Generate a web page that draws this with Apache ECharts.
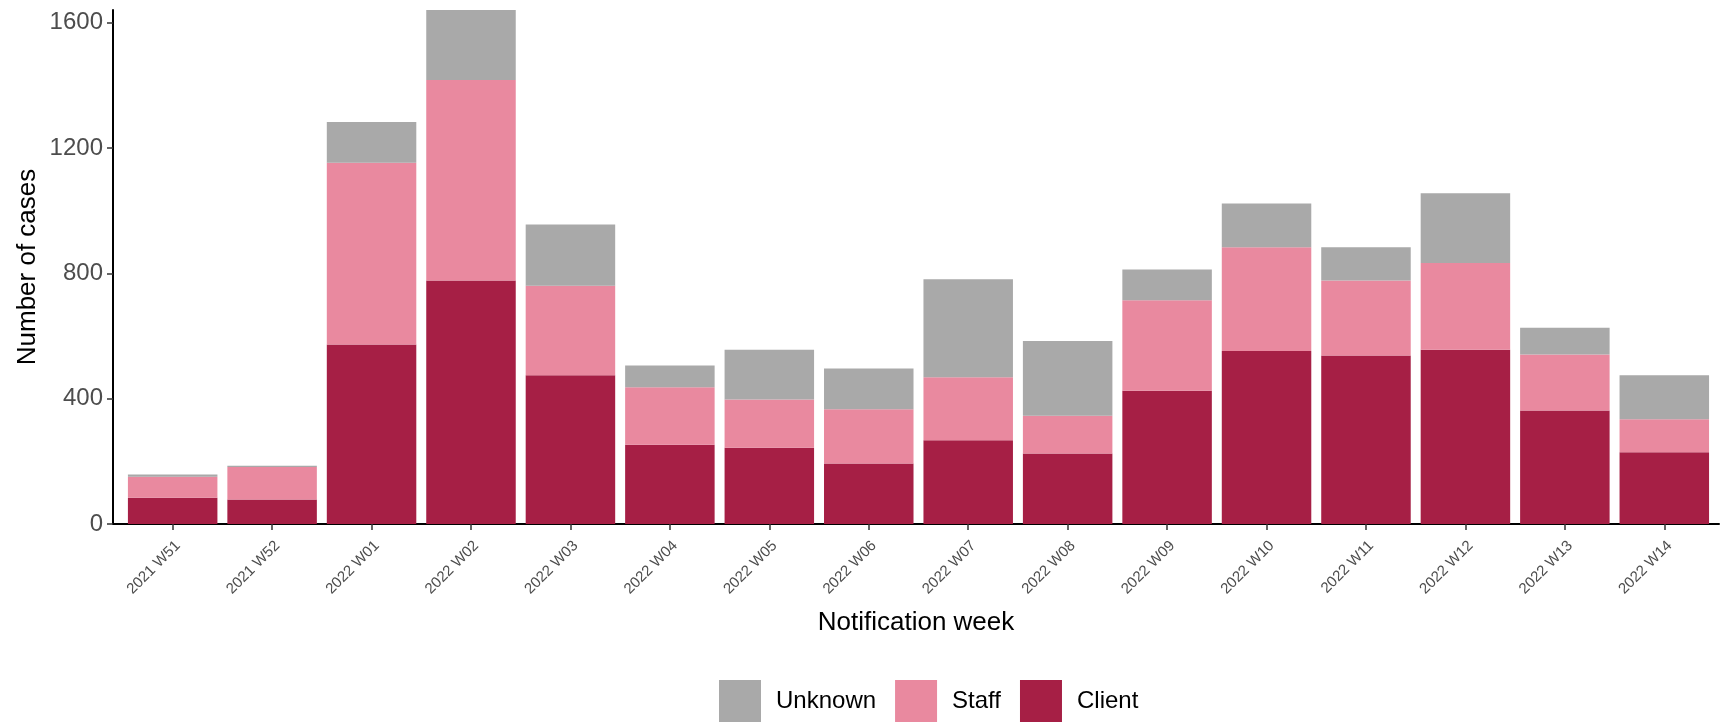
<!DOCTYPE html>
<html>
<head>
<meta charset="utf-8">
<script src="https://cdn.jsdelivr.net/npm/echarts@6/dist/echarts.min.js"></script>
<style>
html, body {margin: 0; padding: 0; background: #fff;}
#main {width: 1725px; height: 723px;}
</style>
</head>
<body>
<div id="main"></div>
<script>
/* data */
let weeks = ['2021 W51', '2021 W52', '2022 W01', '2022 W02', '2022 W03', '2022 W04', '2022 W05', '2022 W06',
  '2022 W07', '2022 W08', '2022 W09', '2022 W10', '2022 W11', '2022 W12', '2022 W13', '2022 W14'];
let client = [84, 78, 573, 777, 475, 253, 243, 193, 267, 225, 425, 552, 538, 556, 362, 229];
let staff = [67, 104, 580, 640, 285, 183, 154, 173, 201, 120, 289, 331, 239, 277, 179, 105];
let unknown = [7, 4, 130, 223, 196, 70, 159, 130, 313, 239, 98, 140, 106, 222, 85, 141];
let yTicks = [0, 400, 800, 1200, 1600];
let yMax = 1640;

let xPos = weeks.map((w, i) => i);
// value first so the stack is done on y
function pairs(arr) {
  return arr.map((v, i) => [v, i]);
}

let chart = echarts.init(document.getElementById('main'));
let font = 'Liberation Sans, Arial, sans-serif';

let option = {
  animation: false,
  textStyle: {fontFamily: font},
  grid: {left: 113, right: 6, top: 10, bottom: 199},
  legend: {
    data: ['Unknown', 'Staff', 'Client'],
    left: 714,
    top: 675,
    itemWidth: 42,
    itemHeight: 42,
    itemGap: 19,
    icon: 'rect',
    textStyle: {fontSize: 24, color: '#000', padding: [0, 0, 0, 10]}
  },
  xAxis: {
    type: 'value',
    min: -0.6,
    max: 15.55,
    name: 'Notification week',
    nameLocation: 'middle',
    nameGap: 86,
    nameMoveOverlap: false,
    nameTextStyle: {fontSize: 26, color: '#000'},
    splitLine: {show: false},
    axisLine: {show: true, lineStyle: {color: '#000', width: 2}},
    axisTick: {show: true, customValues: xPos, length: 6, lineStyle: {color: '#333', width: 1.5}},
    axisLabel: {
      customValues: xPos,
      formatter: v => weeks[Math.round(v)],
      rotate: 45,
      fontSize: 15,
      color: '#4d4d4d',
      margin: 14,
      verticalAlign: 'top'
    }
  },
  yAxis: {
    type: 'value',
    min: 0,
    max: yMax,
    name: 'Number of cases',
    nameLocation: 'middle',
    nameGap: 72,
    nameMoveOverlap: false,
    nameTextStyle: {fontSize: 26, color: '#000'},
    splitLine: {show: false},
    axisLine: {show: true, onZero: false, lineStyle: {color: '#000', width: 2}},
    axisTick: {show: true, customValues: yTicks, length: 6, lineStyle: {color: '#333', width: 1.5}},
    axisLabel: {customValues: yTicks, formatter: v => String(v), fontSize: 24, color: '#4d4d4d', margin: 10}
  },
  series: [
    {name: 'Client', type: 'bar', stack: 'all', barWidth: '90%', encode: {x: 1, y: 0}, data: pairs(client), itemStyle: {color: '#a61f45'}},
    {name: 'Staff', type: 'bar', stack: 'all', barWidth: '90%', encode: {x: 1, y: 0}, data: pairs(staff), itemStyle: {color: '#e9899f'}},
    {name: 'Unknown', type: 'bar', stack: 'all', barWidth: '90%', encode: {x: 1, y: 0}, data: pairs(unknown), itemStyle: {color: '#a9a9a9'}}
  ]
};
chart.setOption(option);
</script>
</body>
</html>
